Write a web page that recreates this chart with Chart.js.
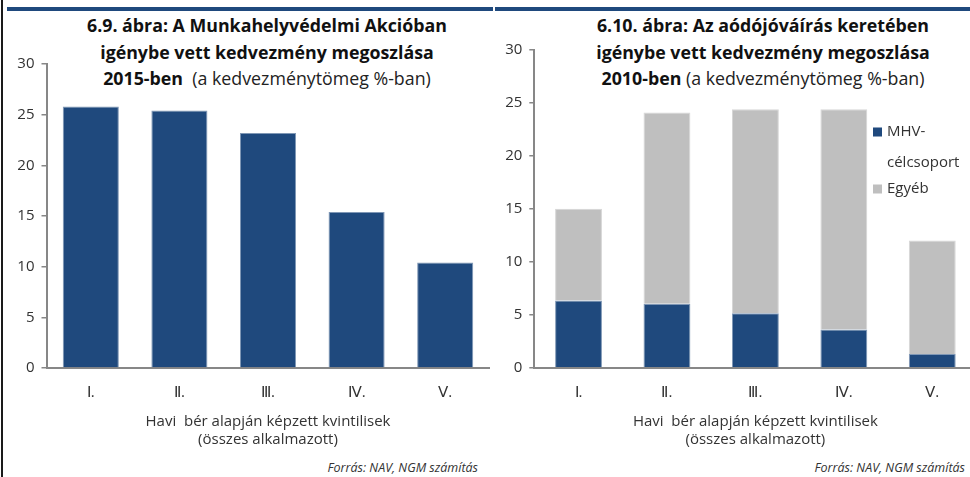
<!DOCTYPE html>
<html lang="hu">
<head>
<meta charset="utf-8">
<title>Kedvezmény megoszlása kvintilisek szerint</title>
<script src="https://cdn.jsdelivr.net/npm/chart.js@4.4.1/dist/chart.umd.min.js"></script>
<style>
  html, body { margin: 0; padding: 0; background: #fff; }
  body { position: relative; width: 970px; height: 477px; overflow: hidden; font-family: "Open Sans", sans-serif; color: #262626; }
  .frame-left { position: absolute; left: 1px; top: 0; width: 2px; height: 477px; background: #1a1a1a; }
  .topline { position: absolute; top: 7px; height: 4px; background: #1f497d; }
  .title { position: absolute; text-align: center; font-weight: 700; font-size: 17.8px; line-height: 26.5px; color: #111; white-space: nowrap; }
  .title .sub { font-weight: 400; color: #222; }
  .src { position: absolute; font-style: italic; font-size: 12.5px; color: #333; white-space: nowrap; }
  canvas { position: absolute; top: 0; }
</style>
</head>
<body>
<div class="frame-left"></div>
<div class="topline" style="left:7px;width:486px"></div>
<div class="topline" style="left:495px;width:475px"></div>

<div class="title" style="left:67px;width:400px;top:12px">6.9. ábra: A Munkahelyvédelmi Akcióban<br>igénybe vett kedvezmény megoszlása<br>2015-ben&nbsp; <span class="sub">(a kedvezménytömeg %-ban)</span></div>
<div class="title" style="left:563px;width:400px;top:12px">6.10. ábra: Az aódójóváírás keretében<br>igénybe vett kedvezmény megoszlása<br>2010-ben <span class="sub">(a kedvezménytömeg %-ban)</span></div>

<div class="src" style="right:492px;top:459px">Forrás: NAV, NGM számítás</div>
<div class="src" style="right:5px;top:459px">Forrás: NAV, NGM számítás</div>

<canvas id="c1" style="left:0;width:495px;height:477px" width="495" height="477"></canvas>
<canvas id="c2" style="left:490px;width:510px;height:477px" width="510" height="477"></canvas>

<script>
// Kvintilisek (havi bér alapján)
const kvintilisek = ['Ⅰ.', 'Ⅱ.', 'Ⅲ.', 'Ⅳ.', 'Ⅴ.'];
// 6.9. ábra: Munkahelyvédelmi Akció, 2015 (%)
const mhv2015 = [25.8, 25.4, 23.2, 15.4, 10.4];
// 6.10. ábra: adójóváírás, 2010 (%)
const celcsoport2010 = [6.35, 6.05, 5.15, 3.6, 1.3];
const egyeb2010 = [8.65, 18.05, 19.25, 20.8, 10.7];
// Függőleges tengely
const yMin = 0, yMax = 30, yStep = 5;
const xTitle = ['Havi  bér alapján képzett kvintilisek', '(összes alkalmazott)'];

const BLUE = '#1f497d';
const GREY = '#bfbfbf';
const AXIS = '#878787';
const TEXT = '#333333';
const FONT = '"Open Sans", sans-serif';

Chart.defaults.font.family = FONT;
Chart.defaults.color = TEXT;

function yScale(width) {
  return {
    min: yMin, max: yMax,
    ticks: { stepSize: yStep, padding: 7, color: TEXT, font: { size: 15 } },
    grid: { drawOnChartArea: false, drawTicks: true, tickLength: 5, color: AXIS, lineWidth: 1.5 },
    border: { color: AXIS, width: 2 },
    afterFit: s => { s.width = width; }
  };
}
function xScale(height, stacked) {
  return {
    stacked: stacked,
    ticks: { padding: 16, color: TEXT, font: { size: 15 } },
    grid: { display: false, drawTicks: false },
    border: { color: AXIS, width: 2 },
    title: { display: true, text: xTitle, color: TEXT, font: { size: 15, lineHeight: 1.2 }, padding: { top: 0, bottom: 0 } },
    afterFit: s => { s.height = height; }
  };
}

// Jelmagyarázat a rajzterület jobb felső részén
const innerLegend = {
  id: 'innerLegend',
  afterDraw(chart) {
    const ctx = chart.ctx;
    const x = 383, lh = 31;
    let y = 132;
    ctx.save();
    ctx.font = '15px ' + FONT;
    ctx.textBaseline = 'middle';
    chart.data.datasets.forEach(ds => {
      const cut = ds.label.indexOf('-');
      const lines = cut >= 0 ? [ds.label.slice(0, cut + 1), ds.label.slice(cut + 1)] : [ds.label];
      ctx.fillStyle = ds.backgroundColor;
      ctx.fillRect(x, y - 4.5, 9, 9);
      ctx.fillStyle = TEXT;
      lines.forEach((t, i) => ctx.fillText(t, x + 14, y + i * lh));
      y += lines.length * lh - 5;
    });
    ctx.restore();
  }
};

new Chart(document.getElementById('c1'), {
  type: 'bar',
  data: {
    labels: kvintilisek,
    datasets: [{
      label: 'MHV',
      data: mhv2015,
      backgroundColor: BLUE,
      borderColor: '#7f97b5',
      borderWidth: 1,
      barPercentage: 0.633,
      categoryPercentage: 1
    }]
  },
  options: {
    responsive: false, animation: false, devicePixelRatio: 1,
    layout: { padding: { top: 64, right: 5.5, bottom: 28, left: 0 } },
    plugins: { legend: { display: false }, tooltip: { enabled: false } },
    scales: { x: xScale(81, false), y: yScale(46.5) }
  }
});

new Chart(document.getElementById('c2'), {
  type: 'bar',
  data: {
    labels: kvintilisek,
    datasets: [{
      label: 'MHV-célcsoport',
      data: celcsoport2010,
      backgroundColor: BLUE,
      borderColor: '#7f97b5',
      borderWidth: 1,
      barPercentage: 0.53,
      categoryPercentage: 1
    }, {
      label: 'Egyéb',
      data: egyeb2010,
      backgroundColor: GREY,
      borderColor: '#d6d6d6',
      borderWidth: 1,
      barPercentage: 0.53,
      categoryPercentage: 1
    }]
  },
  options: {
    responsive: false, animation: false, devicePixelRatio: 1,
    layout: { padding: { top: 50, right: 23.5, bottom: 28, left: 0 } },
    plugins: { legend: { display: false }, tooltip: { enabled: false } },
    scales: { x: xScale(81.3, true), y: Object.assign(yScale(44.3), { stacked: true }) }
  },
  plugins: [innerLegend]
});
</script>
</body>
</html>
